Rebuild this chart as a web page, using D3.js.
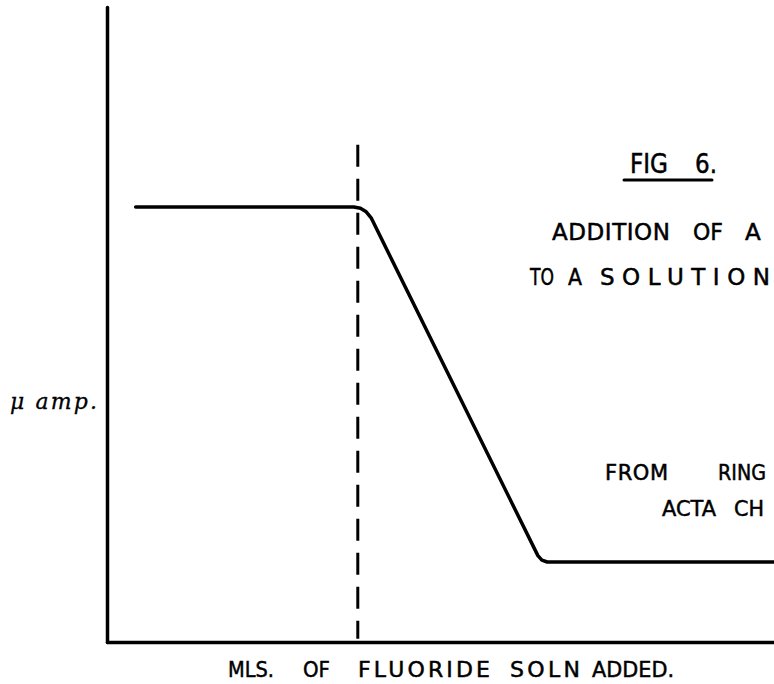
<!DOCTYPE html>
<html>
<head>
<meta charset="utf-8">
<script src="https://cdn.jsdelivr.net/npm/d3@7"></script>
<style>
  html, body { margin: 0; padding: 0; background: #fff; }
  svg { display: block; }
  text { font-family: "DejaVu Sans", sans-serif; fill: #000; stroke: #000; stroke-width: 0.5; }
</style>
</head>
<body>
<svg id="chart" width="774" height="684"></svg>
<script>
// ---- data ----
const xValues = [0.43, 3.70, 3.80, 3.88, 3.96, 6.46, 6.52, 6.60, 10.0];   // mls of fluoride soln added
const yValues = [68.5, 68.5, 68.3, 67.8, 66.8, 13.6, 12.9, 12.6, 12.6];   // current (µamp)
const equivalenceX = [3.76];
const xAxisTitle = ["MLS.", "OF", "FLUORIDE", "SOLN", "ADDED."];
const yAxisTitle = "\u03bc amp.";
const figTitle = ["FIG", "6."];
const captionLine1 = ["ADDITION", "OF", "A"];
const captionLine2 = ["TO", "A", "SOLUTION"];
const sourceLine1 = ["FROM", "RING"];
const sourceLine2 = ["ACTA", "CH"];

// ---- layout ----
const svg = d3.select("#chart");
const W = 774, H = 684;
const margin = { left: 107, right: 0, top: 7, bottom: 42 };
const x = d3.scaleLinear().domain([0, 10]).range([margin.left, W - margin.right]);
const y = d3.scaleLinear().domain([0, 100]).range([H - margin.bottom, margin.top]);

// axes (no ticks, just lines like the hand drawing)
const yAxis = d3.axisLeft(y).tickValues([]).tickSizeOuter(0);
const xAxis = d3.axisBottom(x).tickValues([]).tickSizeOuter(0);
svg.append("g").attr("transform", `translate(${x(0)},0)`).call(yAxis)
  .select(".domain").attr("stroke", "#000").attr("stroke-width", 3.5).attr("stroke-linecap", "round");
svg.append("g").attr("transform", `translate(0,${y(0)})`).call(xAxis)
  .select(".domain").attr("stroke", "#000").attr("stroke-width", 3.5).attr("stroke-linecap", "round");

// dashed vertical line
svg.selectAll("line.eq").data(equivalenceX).enter().append("line")
  .attr("class", "eq")
  .attr("x1", d => x(d)).attr("x2", d => x(d))
  .attr("y1", y(78.3)).attr("y2", y(0.5))
  .attr("stroke", "#000").attr("stroke-width", 3)
  .attr("stroke-dasharray", "22,12");

// titration curve
const pts = xValues.map((v, i) => [v, yValues[i]]);
const line = d3.line().x(d => x(d[0])).y(d => y(d[1])).curve(d3.curveLinear);
svg.append("path").datum(pts)
  .attr("d", line)
  .attr("fill", "none").attr("stroke", "#000").attr("stroke-width", 3.5)
  .attr("stroke-linecap", "round").attr("stroke-linejoin", "round");

// texts: each hand-lettered word placed on its own span
function words(list, spans, yb, size) {
  const g = svg.append("g");
  g.selectAll("text").data(list).enter().append("text")
    .attr("x", (d, i) => spans[i][0]).attr("y", yb)
    .attr("font-size", size)
    .text(d => d)
    .each(function (d, i) {
      const target = spans[i][1] - spans[i][0];
      const natural = this.getComputedTextLength();
      if (natural > target) {
        d3.select(this).attr("textLength", target).attr("lengthAdjust", "spacingAndGlyphs");
      } else if (d.length > 1) {
        d3.select(this).attr("textLength", target).attr("lengthAdjust", "spacing");
      }
    });
  return g;
}
words(figTitle, [[630, 668], [695, 717]], 173, 26);
svg.append("line").attr("x1", 624).attr("x2", 712).attr("y1", 180).attr("y2", 180)
  .attr("stroke", "#000").attr("stroke-width", 3).attr("stroke-linecap", "round");

words(captionLine1, [[552, 670], [693, 723], [745, 763]], 240, 23);
words(captionLine2, [[530, 554], [568, 582], [600, 770]], 285, 23);
words(sourceLine1, [[605, 668], [718, 766]], 480, 21);
words(sourceLine2, [[662, 716], [734, 764]], 516, 21);

svg.append("text").attr("x", 10).attr("y", 409)
  .attr("font-size", 22).attr("font-style", "italic")
  .attr("textLength", 87).attr("lengthAdjust", "spacing")
  .style("font-family", "DejaVu Serif, serif").style("stroke-width", 0.3)
  .text(yAxisTitle);

words(xAxisTitle, [[228, 274], [303, 330], [358, 490], [510, 580], [592, 674]], 677, 22);
</script>
</body>
</html>
